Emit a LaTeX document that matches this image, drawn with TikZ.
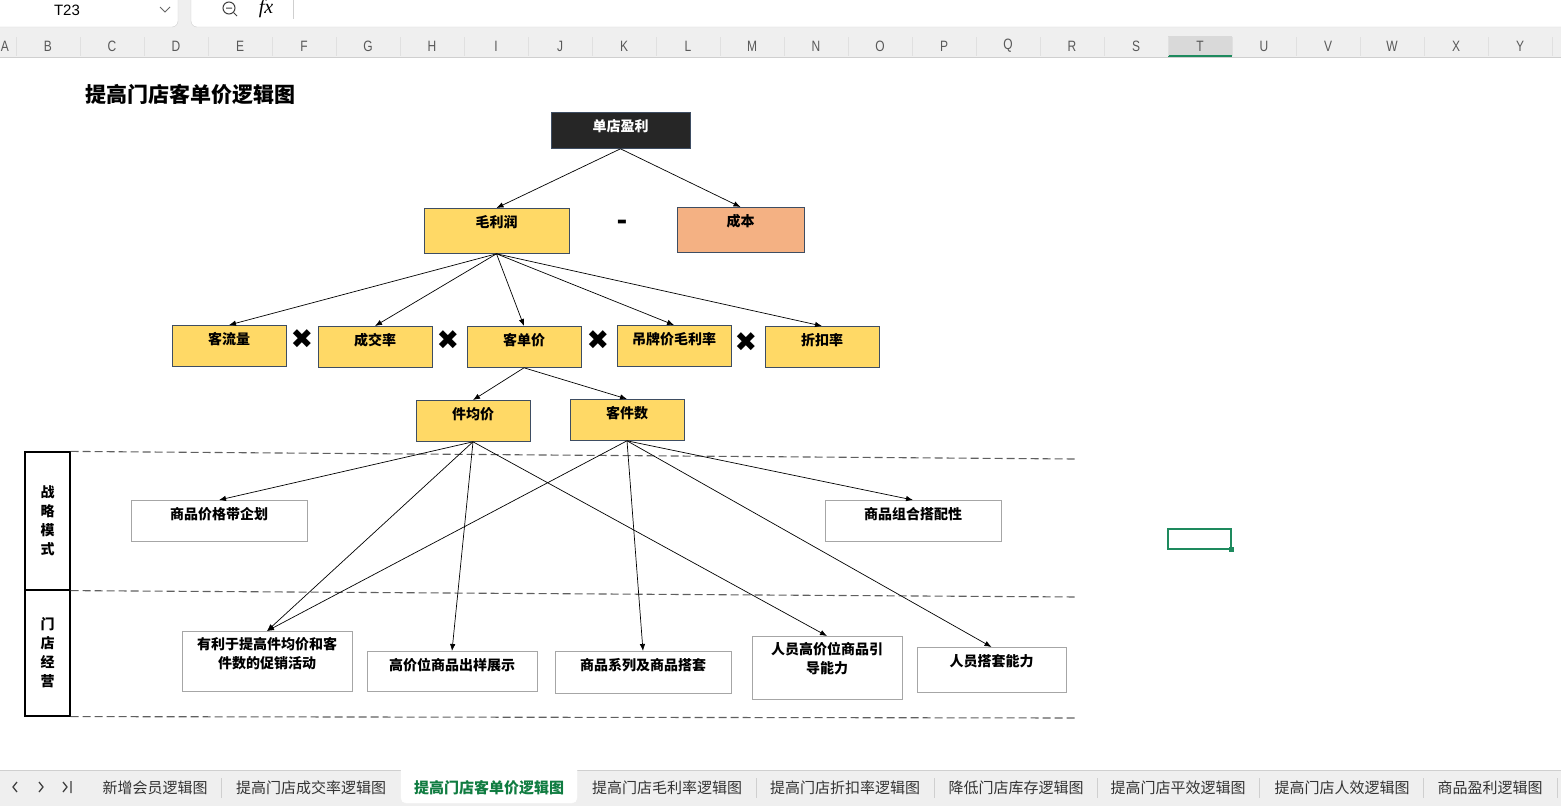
\documentclass[tikz,border=0pt]{standalone}
\usepackage{fontspec}
\setmainfont{Noto Sans CJK SC}
\newfontfamily\uifont{Liberation Sans}
\newfontfamily\hdrfont[FakeStretch=0.8]{Liberation Sans}
\newfontfamily\symfont{DejaVu Sans}
\newfontfamily\fxfont{Liberation Serif}
\usetikzlibrary{arrows.meta}

\definecolor{gold}{HTML}{FFD966}
\definecolor{peach}{HTML}{F4B183}
\definecolor{ink}{HTML}{262626}
\definecolor{slate}{HTML}{3E4D62}
\definecolor{frame}{HTML}{A6A6A6}
\definecolor{chrome}{HTML}{EFEFEF}
\definecolor{rule}{HTML}{CFCFCF}
\definecolor{hdrsel}{HTML}{D9D9D9}
\definecolor{xlgreen}{HTML}{1E8A5E}
\definecolor{tabgreen}{HTML}{107C41}
\definecolor{hdrtext}{HTML}{595959}
\definecolor{dashgray}{HTML}{5F5F5F}

\begin{document}
\begin{tikzpicture}[
  x=1pt, y=-1pt,
  box/.style={
    draw=slate,
    fill=gold,
    line width=0.8pt,
    anchor=north,
    inner sep=0pt,
    align=center,
    text height=19pt,
    font=\fontsize{14}{19}\selectfont\bfseries
  },
  plan/.style={box, draw=frame, fill=white},
  cell/.style={
    draw=black,
    line width=1.2pt,
    inner sep=0pt,
    minimum width=45pt,
    align=center,
    font=\fontsize{14}{19}\selectfont\bfseries
  },
  times/.style={font=\symfont\fontsize{27}{27}\selectfont},
  arrow/.style={-{Latex[length=7pt,width=5.5pt]},line width=0.7pt},
  sep/.style={dashgray,line width=1.1pt,dash pattern=on 8pt off 4pt},
  hdr/.style={font=\hdrfont\fontsize{15}{15}\selectfont,text=hdrtext},
  tab/.style={font=\fontsize{15}{15}\selectfont,text=black!80}
]
\useasboundingbox (0,0) rectangle (1561,806);

% spreadsheet top bar and column headers
\fill[chrome] (0,0) rectangle (1561,58);
\draw[rule,fill=white,rounded corners=6pt] (-8,-8) rectangle (178,27);
\draw[rule,fill=white,rounded corners=6pt] (191,-8) rectangle (1570,27);
\node[font=\uifont\fontsize{15}{15}\selectfont] (cellref) at (67,10) {T23};
\draw[black!60,line width=0.8pt] (160,7) -- (165,12) -- (170,7);
\draw[black!75,line width=1pt] (229,8) circle (6pt);
\draw[black!75,line width=1pt] (226,8) -- (232,8) (233.5,12.5) -- (237,16);
\node[font=\fxfont\itshape\fontsize{20}{20}\selectfont] (fx) at (266,9) {fx};
\draw[rule] (293,0) -- (293,19);
\fill[hdrsel] (1168,36) rectangle (1232,57);
\fill[xlgreen] (1168,55) rectangle (1232,58);
\draw[rule] (0,57.5) -- (1561,57.5);
\foreach \i in {0,...,24}
  \draw[black!12] ({16+64*\i},37) -- ({16+64*\i},56);
\node[hdr] (col-A) at (5,46) {A};
\foreach \col [count=\i from 0] in {B,C,D,E,F,G,H,I,J,K,L,M,N,O,P,Q,R,S,T,U,V,W,X,Y}
  \node[hdr] (col-\col) at ({48+64*\i},46) {\col};

% selected cell
\draw[xlgreen,line width=2pt] (1168,529) rectangle (1231,549);
\fill[xlgreen] (1229,547) rectangle (1234,552);

% title
\node[anchor=west,font=\fontsize{21}{21}\selectfont\bfseries] (title) at (82,94) {提高门店客单价逻辑图};

% logic tree
\node[box,fill=ink,text=white,minimum width=139pt,text depth=17pt] (shop) at (620.5,112) {单店盈利};
\node[box,minimum width=145pt,text depth=26pt] (gross) at (496.5,208) {毛利润};
\node[box,fill=peach,minimum width=127pt,text depth=26pt] (cost) at (740.5,207) {成本};
\node[font=\symfont\bfseries\fontsize{26}{26}\selectfont] (minus) at (622,225) {-};

\node[box,minimum width=114pt,text depth=22pt] (traffic) at (229,325) {客流量};
\node[box,minimum width=114pt,text depth=22pt] (conv) at (375,326) {成交率};
\node[box,minimum width=114pt,text depth=22pt] (atv) at (524,326) {客单价};
\node[box,minimum width=114pt,text depth=22pt] (tagm) at (674,325) {吊牌价毛利率};
\node[box,minimum width=114pt,text depth=22pt] (disc) at (822,326) {折扣率};
\node[times] (x1) at (302,339) {✖};
\node[times] (x2) at (448,340) {✖};
\node[times] (x3) at (598,340) {✖};
\node[times] (x4) at (746,342) {✖};

\node[box,minimum width=114pt,text depth=22pt] (upp) at (473,400) {件均价};
\node[box,minimum width=114pt,text depth=22pt] (upt) at (627,399) {客件数};

% left bands
\node[cell,minimum height=138pt] (strat) at (47.5,521) {战\\略\\模\\式};
\node[cell,minimum height=126pt] (store) at (47.5,653) {门\\店\\经\\营};
\coordinate (sepA) at (1075,459);
\coordinate (sepB) at (1078,597);
\coordinate (sepC) at (1078,718);
\draw[sep] (strat.north east) -- (sepA);
\draw[sep] (strat.south east) -- (sepB);
\draw[sep] (store.south east) -- (sepC);

\node[plan,minimum width=176pt,text depth=22pt] (band) at (219,500) {商品价格带企划};
\node[plan,minimum width=176pt,text depth=22pt] (combo) at (913,500) {商品组合搭配性};
\node[plan,minimum width=170pt,text height=37pt,text depth=23pt] (promo) at (267,631) {有利于提高件均价和客\\件数的促销活动};
\node[plan,minimum width=170pt,text depth=21pt] (display) at (452,651) {高价位商品出样展示};
\node[plan,minimum width=176pt,text depth=23pt] (series) at (643,651) {商品系列及商品搭套};
\node[plan,minimum width=150pt,text height=37pt,text depth=26pt] (guide) at (827,636) {人员高价位商品引\\导能力};
\node[plan,minimum width=149pt,text depth=26pt] (match) at (991.5,647) {人员搭套能力};

\draw[arrow] (shop.south) -- (gross.north);
\draw[arrow] (shop.south) -- (cost.north);
\foreach \kid in {traffic,conv,atv,tagm,disc}
  \draw[arrow] (gross.south) -- (\kid.north);
\draw[arrow] (atv.south) -- (upp.north);
\draw[arrow] (atv.south) -- (upt.north);
\foreach \kid in {band,promo,display,guide}
  \draw[arrow] (upp.south) -- (\kid.north);
\foreach \kid in {promo,series,match,combo}
  \draw[arrow] (upt.south) -- (\kid.north);

% sheet tabs
\fill[chrome] (0,770) rectangle (1561,806);
\draw[rule] (0,770.5) -- (1561,770.5);
\draw[white,fill=white,rounded corners=5pt] (401,765) rectangle (577,803);
\draw[black!75,line width=1.3pt] (17,782) -- (13,787) -- (17,792);
\draw[black!75,line width=1.3pt] (39,782) -- (43,787) -- (39,792);
\draw[black!75,line width=1.3pt] (63,782) -- (67,787) -- (63,792) (71,781) -- (71,793);
\foreach \x in {221,756,934,1097,1259,1423,1557}
  \draw[rule] (\x,778) -- (\x,798);
\node[tab] (tab1) at (155,788) {新增会员逻辑图};
\node[tab] (tab2) at (311,788) {提高门店成交率逻辑图};
\node[tab,text=tabgreen,font=\fontsize{15}{15}\selectfont\bfseries] (tab3) at (489,788) {提高门店客单价逻辑图};
\node[tab] (tab4) at (667,788) {提高门店毛利率逻辑图};
\node[tab] (tab5) at (845,788) {提高门店折扣率逻辑图};
\node[tab] (tab6) at (1016,788) {降低门店库存逻辑图};
\node[tab] (tab7) at (1178,788) {提高门店平效逻辑图};
\node[tab] (tab8) at (1342,788) {提高门店人效逻辑图};
\node[tab] (tab9) at (1490,788) {商品盈利逻辑图};
\end{tikzpicture}
\end{document}
